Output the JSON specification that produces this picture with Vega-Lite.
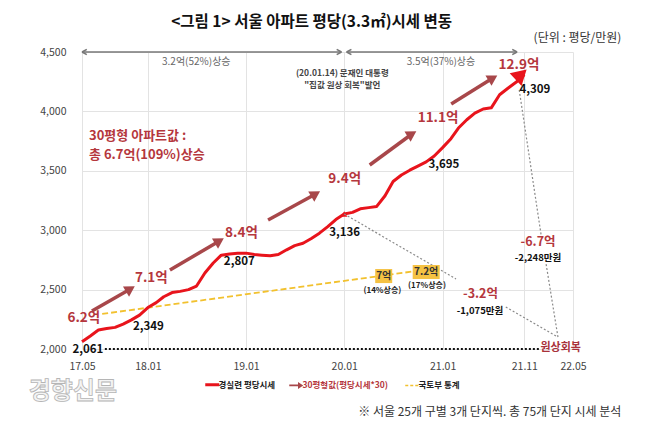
{
"$schema": "https://vega.github.io/schema/vega-lite/v6.json",
"width": 491, "height": 297,
"autosize": {"type": "none"},
"padding": {"left": 82, "top": 52, "right": 85, "bottom": 80},
"background": "#ffffff",
"config": {"font": "Noto Sans CJK KR", "view": {"stroke": null}},
"encoding": {
  "x": {"field": "d", "type": "temporal", "title": null,
    "scale": {"type": "utc", "domain": [{"year": 2017, "month": 5, "date": 1, "utc": true}, {"year": 2022, "month": 5, "date": 1, "utc": true}]},
    "axis": {"values": [{"year": 2017, "month": 5, "date": 1, "utc": true}, {"year": 2018, "month": 1, "date": 1, "utc": true}, {"year": 2019, "month": 1, "date": 1, "utc": true}, {"year": 2020, "month": 1, "date": 1, "utc": true}, {"year": 2021, "month": 1, "date": 1, "utc": true}, {"year": 2021, "month": 11, "date": 1, "utc": true}, {"year": 2022, "month": 5, "date": 1, "utc": true}],
      "labelExpr": "utcFormat(datum.value, '%y.%m')", "labelColor": "#444", "labelFontSize": 10.5, "labelPadding": 12, "ticks": false, "domain": false, "grid": true, "gridColor": "#e3e3e3", "labelFlush": false, "labelOverlap": false}},
  "y": {"field": "v", "type": "quantitative", "title": null,
    "scale": {"domain": [2000, 4500], "nice": false, "zero": false},
    "axis": {"values": [2000, 2500, 3000, 3500, 4000, 4500], "format": ",d", "labelColor": "#444", "labelFontSize": 10.5, "labelPadding": 16, "ticks": false, "domain": false, "grid": true, "gridColor": "#e3e3e3"}}
},
"layer": [
  {"data": {"values": [{"d": "2017-07-15", "v": 2295}, {"d": "2020-12-10", "v": 2680}]},
   "mark": {"type": "line", "color": "#f2c12e", "strokeWidth": 1.8, "strokeDash": [6, 3]}},
  {"data": {"values": [
    {"d": "2017-05-01", "v": 2061, "s": "경실련 평당시세"},
    {"d": "2017-06-01", "v": 2110, "s": "경실련 평당시세"},
    {"d": "2017-07-01", "v": 2160, "s": "경실련 평당시세"},
    {"d": "2017-08-01", "v": 2172, "s": "경실련 평당시세"},
    {"d": "2017-09-01", "v": 2182, "s": "경실련 평당시세"},
    {"d": "2017-10-01", "v": 2210, "s": "경실련 평당시세"},
    {"d": "2017-11-01", "v": 2245, "s": "경실련 평당시세"},
    {"d": "2017-12-01", "v": 2285, "s": "경실련 평당시세"},
    {"d": "2018-01-01", "v": 2349, "s": "경실련 평당시세"},
    {"d": "2018-02-01", "v": 2390, "s": "경실련 평당시세"},
    {"d": "2018-03-01", "v": 2440, "s": "경실련 평당시세"},
    {"d": "2018-04-01", "v": 2475, "s": "경실련 평당시세"},
    {"d": "2018-05-01", "v": 2485, "s": "경실련 평당시세"},
    {"d": "2018-06-01", "v": 2500, "s": "경실련 평당시세"},
    {"d": "2018-07-01", "v": 2530, "s": "경실련 평당시세"},
    {"d": "2018-08-01", "v": 2640, "s": "경실련 평당시세"},
    {"d": "2018-09-01", "v": 2724, "s": "경실련 평당시세"},
    {"d": "2018-10-01", "v": 2790, "s": "경실련 평당시세"},
    {"d": "2018-11-01", "v": 2800, "s": "경실련 평당시세"},
    {"d": "2018-12-01", "v": 2805, "s": "경실련 평당시세"},
    {"d": "2019-01-01", "v": 2807, "s": "경실련 평당시세"},
    {"d": "2019-02-01", "v": 2795, "s": "경실련 평당시세"},
    {"d": "2019-03-01", "v": 2790, "s": "경실련 평당시세"},
    {"d": "2019-04-01", "v": 2785, "s": "경실련 평당시세"},
    {"d": "2019-05-01", "v": 2795, "s": "경실련 평당시세"},
    {"d": "2019-06-01", "v": 2835, "s": "경실련 평당시세"},
    {"d": "2019-07-01", "v": 2870, "s": "경실련 평당시세"},
    {"d": "2019-08-01", "v": 2890, "s": "경실련 평당시세"},
    {"d": "2019-09-01", "v": 2930, "s": "경실련 평당시세"},
    {"d": "2019-10-01", "v": 2975, "s": "경실련 평당시세"},
    {"d": "2019-11-01", "v": 3030, "s": "경실련 평당시세"},
    {"d": "2019-12-01", "v": 3090, "s": "경실련 평당시세"},
    {"d": "2020-01-01", "v": 3136, "s": "경실련 평당시세"},
    {"d": "2020-02-01", "v": 3150, "s": "경실련 평당시세"},
    {"d": "2020-03-01", "v": 3180, "s": "경실련 평당시세"},
    {"d": "2020-04-01", "v": 3190, "s": "경실련 평당시세"},
    {"d": "2020-05-01", "v": 3200, "s": "경실련 평당시세"},
    {"d": "2020-06-01", "v": 3290, "s": "경실련 평당시세"},
    {"d": "2020-07-01", "v": 3410, "s": "경실련 평당시세"},
    {"d": "2020-08-01", "v": 3465, "s": "경실련 평당시세"},
    {"d": "2020-09-01", "v": 3505, "s": "경실련 평당시세"},
    {"d": "2020-10-01", "v": 3540, "s": "경실련 평당시세"},
    {"d": "2020-11-01", "v": 3575, "s": "경실련 평당시세"},
    {"d": "2020-12-01", "v": 3625, "s": "경실련 평당시세"},
    {"d": "2021-01-01", "v": 3695, "s": "경실련 평당시세"},
    {"d": "2021-02-01", "v": 3770, "s": "경실련 평당시세"},
    {"d": "2021-03-01", "v": 3860, "s": "경실련 평당시세"},
    {"d": "2021-04-01", "v": 3930, "s": "경실련 평당시세"},
    {"d": "2021-05-01", "v": 3985, "s": "경실련 평당시세"},
    {"d": "2021-06-01", "v": 4020, "s": "경실련 평당시세"},
    {"d": "2021-07-01", "v": 4030, "s": "경실련 평당시세"},
    {"d": "2021-08-01", "v": 4140, "s": "경실련 평당시세"},
    {"d": "2021-09-01", "v": 4195, "s": "경실련 평당시세"},
    {"d": "2021-10-01", "v": 4245, "s": "경실련 평당시세"},
    {"d": "2021-11-01", "v": 4309, "s": "경실련 평당시세"}]},
   "mark": {"type": "line", "strokeWidth": 3, "strokeJoin": "round"},
   "encoding": {"color": {"field": "s", "type": "nominal", "title": null,
     "scale": {"domain": ["경실련 평당시세", "30평형값(평당시세*30)", "국토부 통계"], "range": ["#e8141c", "#a8474a", "#f2c12e"]},
     "legend": {"orient": "none", "legendX": 126, "legendY": 328, "direction": "horizontal", "columns": 3,
       "symbolType": "stroke", "symbolSize": 196, "symbolStrokeWidth": 3, "labelFontSize": 8.5, "labelFontWeight": "bold", "labelColor": "#222", "labelOffset": 2, "columnPadding": 13,
       "encode": {
         "symbols": {"update": {
           "shape": {"signal": "datum.value == '30평형값(평당시세*30)' ? 'M-1,-0.13H0.25V-0.5L1,0L0.25,0.5V0.13H-1Z' : 'stroke'"},
           "fill": {"signal": "datum.value == '30평형값(평당시세*30)' ? '#a8474a' : 'transparent'"},
           "stroke": {"signal": "datum.value == '경실련 평당시세' ? '#e8141c' : (datum.value == '국토부 통계' ? '#f2c12e' : 'transparent')"},
           "strokeWidth": {"signal": "datum.value == '국토부 통계' ? 1.5 : (datum.value == '경실련 평당시세' ? 3 : 0)"},
           "strokeDash": {"signal": "datum.value == '국토부 통계' ? [3, 2] : [1, 0]"},
           "opacity": {"value": 1}}},
         "labels": {"update": {"fill": {"signal": "datum.value == '30평형값(평당시세*30)' ? '#b5373d' : '#222'"}}}}}}}},
  {"data": {"values": [{"d": "2021-10-20", "v": 4310}]},
   "mark": {"type": "point", "shape": "triangle-up", "filled": true, "color": "#e8141c", "size": 300, "angle": 47, "opacity": 1}},
  {"data": {"values": [{"d": "2020-01-01", "v": 3136}]},
   "mark": {"type": "point", "shape": "triangle-up", "filled": true, "color": "#e8141c", "size": 40, "opacity": 1}},
  {"data": {"values": [
    {"d": "2020-01-01", "v": 3136, "d2": "2021-02-20", "v2": 2589},
    {"d": "2021-08-24", "v": 2354, "d2": "2022-03-06", "v2": 2101},
    {"d": "2021-10-13", "v": 4180, "d2": "2022-01-03", "v2": 2951},
    {"d": "2022-01-21", "v": 2715, "d2": "2022-03-06", "v2": 2101}], "format": {"parse": {"d2": "date"}}},
   "mark": {"type": "rule", "color": "#8a8a8a", "strokeWidth": 1.2, "strokeDash": [2, 2]},
   "encoding": {"x2": {"field": "d2"}, "y2": {"field": "v2"}}},
  {"data": {"values": [{"d": "2017-07-25", "v": 2000, "d2": "2021-12-25", "v2": 2000}], "format": {"parse": {"d2": "date"}}},
   "mark": {"type": "rule", "color": "#111", "strokeWidth": 2, "strokeDash": [2, 2]},
   "encoding": {"x2": {"field": "d2"}, "y2": {"field": "v2"}}},
  {"data": {"values": [
    {"d": "2017-05-01", "v": 4500, "d2": "2019-12-22", "v2": 4500},
    {"d": "2020-01-10", "v": 4500, "d2": "2021-10-05", "v2": 4500}], "format": {"parse": {"d2": "date"}}},
   "mark": {"type": "rule", "color": "#777", "strokeWidth": 1.5},
   "encoding": {"x2": {"field": "d2"}, "y2": {"field": "v2"}}},
  {"data": {"values": [{"d": "2017-05-01", "v": 4500}, {"d": "2020-01-10", "v": 4500}]},
   "mark": {"type": "point", "shape": "M0,0L1.6,-0.9M0,0L1.6,0.9", "filled": false, "color": "#777", "strokeWidth": 1.5, "size": 36, "opacity": 1}},
  {"data": {"values": [{"d": "2019-12-22", "v": 4500}, {"d": "2021-10-05", "v": 4500}]},
   "mark": {"type": "point", "shape": "M0,0L-1.6,-0.9M0,0L-1.6,0.9", "filled": false, "color": "#777", "strokeWidth": 1.5, "size": 36, "opacity": 1}},
  {"data": {"values": [
    {"d": "2017-06-07", "v": 2320, "d2": "2017-10-28", "v2": 2505},
    {"d": "2018-03-24", "v": 2665, "d2": "2018-09-24", "v2": 2909},
    {"d": "2019-03-24", "v": 3086, "d2": "2019-09-17", "v2": 3305},
    {"d": "2020-04-05", "v": 3549, "d2": "2020-09-09", "v2": 3810},
    {"d": "2021-02-02", "v": 4062, "d2": "2021-07-07", "v2": 4281}], "format": {"parse": {"d2": "date"}}},
   "mark": {"type": "rule", "color": "#a8474a", "strokeWidth": 3.5},
   "encoding": {"x2": {"field": "d2"}, "y2": {"field": "v2"}}},
  {"data": {"values": [
    {"d": "2017-10-28", "v": 2505},
    {"d": "2018-09-24", "v": 2909},
    {"d": "2019-09-17", "v": 3305},
    {"d": "2020-09-09", "v": 3810},
    {"d": "2021-07-07", "v": 4281}]},
   "mark": {"type": "point", "shape": "triangle-right", "filled": true, "color": "#a8474a", "size": 140, "angle": -31, "opacity": 1}},
  {"data": {"values": [{"d": "2020-05-27", "v": 2614, "t": "7억"}, {"d": "2020-11-01", "v": 2648, "t": "7.2억"}]},
   "mark": {"type": "point", "filled": true, "color": "#f5c243", "size": 729, "opacity": 1},
   "encoding": {"shape": {"field": "t", "type": "nominal", "legend": null, "scale": {"domain": ["7억", "7.2억"], "range": ["M-0.63,-0.52H0.63V0.52H-0.63Z", "M-1,-0.52H1V0.52H-1Z"]}}}},
  {"data": {"values": [{"d": "2020-05-27", "v": 2614, "t": "7억"}, {"d": "2020-11-01", "v": 2648, "t": "7.2억"}]},
   "mark": {"type": "text", "fontSize": 10, "fontWeight": "bold", "color": "#333"},
   "encoding": {"text": {"field": "t"}}},
  {"data": {"values": [{"d": "2020-05-22", "v": 2492, "t": "(14%상승)"}, {"d": "2020-11-04", "v": 2534, "t": "(17%상승)"}]},
   "mark": {"type": "text", "fontSize": 8, "fontWeight": "bold", "color": "#222"},
   "encoding": {"text": {"field": "t"}}},
  {"data": {"values": [
    {"d": "2017-05-08", "v": 2261, "t": "6.2억"},
    {"d": "2018-01-14", "v": 2598, "t": "7.1억"},
    {"d": "2018-12-15", "v": 2976, "t": "8.4억"},
    {"d": "2020-01-03", "v": 3431, "t": "9.4억"},
    {"d": "2020-12-15", "v": 3944, "t": "11.1억"},
    {"d": "2021-10-12", "v": 4391, "t": "12.9억"}]},
   "mark": {"type": "text", "fontSize": 13.5, "fontWeight": "bold", "color": "#b5373d"},
   "encoding": {"text": {"field": "t"}}},
  {"data": {"values": [
    {"d": "2017-05-23", "v": 1992, "t": "2,061"},
    {"d": "2018-01-03", "v": 2185, "t": "2,349"},
    {"d": "2018-12-07", "v": 2732, "t": "2,807"},
    {"d": "2020-01-03", "v": 2976, "t": "3,136"},
    {"d": "2021-01-06", "v": 3549, "t": "3,695"},
    {"d": "2021-12-10", "v": 4180, "t": "4,309"}]},
   "mark": {"type": "text", "fontSize": 11.5, "fontWeight": "bold", "color": "#111"},
   "encoding": {"text": {"field": "t"}}},
  {"data": {"values": [
    {"d": "2017-05-27", "v": 3793, "t": "30평형 아파트값 :"},
    {"d": "2017-05-27", "v": 3633, "t": "총 6.7억(109%)상승"}]},
   "mark": {"type": "text", "align": "left", "fontSize": 13, "fontWeight": "bold", "color": "#b5373d"},
   "encoding": {"text": {"field": "t"}}},
  {"data": {"values": [
    {"d": "2021-12-22", "v": 2898, "t": "-6.7억"},
    {"d": "2021-05-22", "v": 2460, "t": "-3.2억"}]},
   "mark": {"type": "text", "fontSize": 12.5, "fontWeight": "bold", "color": "#b5373d"},
   "encoding": {"text": {"field": "t"}}},
  {"data": {"values": [
    {"d": "2021-12-22", "v": 2762, "t": "-2,248만원"},
    {"d": "2021-05-20", "v": 2324, "t": "-1,075만원"}]},
   "mark": {"type": "text", "fontSize": 9.5, "fontWeight": "bold", "color": "#111"},
   "encoding": {"text": {"field": "t"}}},
  {"data": {"values": [{"d": "2022-03-16", "v": 2008, "t": "원상회복"}]},
   "mark": {"type": "text", "fontSize": 11, "fontWeight": "bold", "color": "#a8323a"},
   "encoding": {"text": {"field": "t"}}},
  {"data": {"values": [
    {"d": "2018-06-30", "v": 4416, "t": "3.2억(52%)상승"},
    {"d": "2020-12-26", "v": 4416, "t": "3.5억(37%)상승"}]},
   "mark": {"type": "text", "fontSize": 10, "color": "#666"},
   "encoding": {"text": {"field": "t"}}},
  {"data": {"values": [
    {"d": "2019-12-25", "v": 4324, "t": "(20.01.14) 문재인 대통령"},
    {"d": "2019-12-25", "v": 4224, "t": "\"집값 원상 회복\"발언"}]},
   "mark": {"type": "text", "fontSize": 8.5, "fontWeight": "bold", "color": "#444"},
   "encoding": {"text": {"field": "t"}}},
  {"data": {"values": [{"d": "2019-09-02", "v": 4752, "t": "<그림 1> 서울 아파트 평당(3.3㎡)시세 변동"}]},
   "mark": {"type": "text", "fontSize": 15.5, "fontWeight": "bold", "color": "#111"},
   "encoding": {"text": {"field": "t"}}},
  {"data": {"values": [{"d": "2022-10-28", "v": 4618, "t": "(단위 : 평당/만원)"}]},
   "mark": {"type": "text", "align": "right", "fontSize": 12, "color": "#333"},
   "encoding": {"text": {"field": "t"}}},
  {"data": {"values": [{"d": "2022-10-28", "v": 1470, "t": "※ 서울 25개 구별 3개 단지씩. 총 75개 단지 시세 분석"}]},
   "mark": {"type": "text", "align": "right", "fontSize": 12, "color": "#333"},
   "encoding": {"text": {"field": "t"}}},
  {"data": {"values": [{"d": "2017-03-28", "v": 1638, "t": "경향신문"}]},
   "mark": {"type": "text", "fontSize": 24, "fontWeight": "bold", "color": "#f4f4f4", "stroke": "#b5b5b5", "strokeWidth": 0.8},
   "encoding": {"text": {"field": "t"}}}
]
}
